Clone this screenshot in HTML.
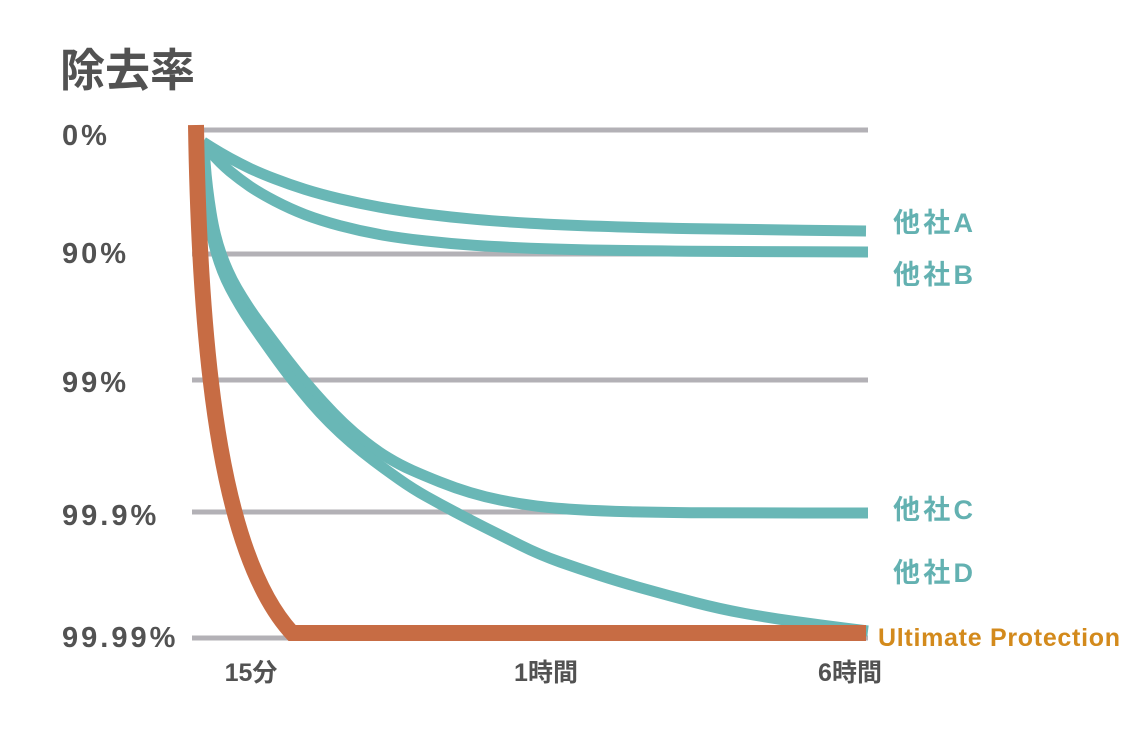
<!DOCTYPE html>
<html>
<head>
<meta charset="utf-8">
<style>
html,body{margin:0;padding:0;background:#fff;}
svg{display:block;}
.ax{font-family:"Liberation Sans","Noto Sans CJK JP",sans-serif;font-weight:bold;fill:#525252;}
.tl{font-family:"Liberation Sans","Noto Sans CJK JP",sans-serif;font-weight:bold;fill:#63b1b1;}
</style>
</head>
<body>
<svg width="1128" height="756" viewBox="0 0 1128 756" xmlns="http://www.w3.org/2000/svg">
<rect width="1128" height="756" fill="#fff"/>
<!-- title -->
<text x="60" y="86" class="ax" font-size="45" font-family="Noto Sans CJK JP, sans-serif" textLength="135">除去率</text>
<!-- y labels -->
<text x="62" y="145" class="ax" font-size="29" letter-spacing="3">0%</text>
<text x="62" y="263" class="ax" font-size="29" letter-spacing="3">90%</text>
<text x="62" y="392" class="ax" font-size="29" letter-spacing="3">99%</text>
<text x="62" y="525" class="ax" font-size="29" letter-spacing="3">99.9%</text>
<text x="62" y="647" class="ax" font-size="29" letter-spacing="3">99.99%</text>
<!-- gridlines -->
<g stroke="#b3b1b6" stroke-width="5">
<line x1="192" y1="130" x2="868" y2="130"/>
<line x1="192" y1="254" x2="868" y2="254"/>
<line x1="192" y1="380" x2="868" y2="380"/>
<line x1="192" y1="512" x2="868" y2="512"/>
<line x1="192" y1="638" x2="868" y2="638"/>
</g>
<!-- teal curves -->
<g fill="none" stroke="#69b7b6" stroke-width="11" stroke-linejoin="round" stroke-linecap="butt">
<path d="M203,142 L211.5,147.4 Q220,152.7 230,158.2 Q240,163.6 250,168.4 Q260,173.1 275,178.9 Q290,184.7 305,189.4 Q320,194.1 340,198.9 Q360,203.6 380,207.2 Q400,210.8 425,214 Q450,217.1 475,219.3 Q500,221.5 530,223.2 Q560,224.9 600,226.3 Q640,227.7 690,228.6 Q740,229.4 803,230.2 L866,231"/>
<path d="M203,143 L211.5,153 Q220,163.1 230,171.4 Q240,179.6 250,186.4 Q260,193.1 275,201 Q290,208.8 305,214.6 Q320,220.3 340,225.7 Q360,231 380,234.6 Q400,238.1 425,240.9 Q450,243.7 475,245.4 Q500,247 530,248.2 Q560,249.3 600,250.1 Q640,250.8 690,251.2 Q740,251.5 804,251.8 L868,252"/>
<path d="M204,148 L205,161.5 Q206,175 207.5,187.5 Q209,200 211,212.5 Q213,225 215.5,235 Q218,245 221,253.5 Q224,262 228,271 Q232,280 237,288.5 Q242,297 247.5,305.5 Q253,314 259,322 Q265,330 272.5,340 Q280,350 288.5,361 Q297,372 305.5,382 Q314,392 323.5,402.5 Q333,413 343.5,423 Q354,433 365.5,442 Q377,451 388.5,458 Q400,465 412.5,470.5 Q425,476 440,482 Q455,488 470,492.5 Q485,497 500,500 Q515,503 532.5,505.5 Q550,508 575,509.5 Q600,511 630,511.75 Q660,512.5 700,512.75 Q740,513 804,513 L868,513"/>
<path d="M204,148 L204.5,161.5 Q205,175 206,187.5 Q207,200 208.5,212.5 Q210,225 212,235 Q214,245 216.5,253.5 Q219,262 222.5,271 Q226,280 230.5,288.5 Q235,297 240,305.5 Q245,314 250.5,322 Q256,330 263,340 Q270,350 278,361 Q286,372 294,382 Q302,392 311,402.5 Q320,413 330,423 Q340,433 351,442.5 Q362,452 374,461 Q386,470 399.5,479.5 Q413,489 426.5,496.5 Q440,504 455,512 Q470,520 485,527.5 Q500,535 520,545 Q540,555 560,562 Q580,569 600,575.5 Q620,582 645,589 Q670,596 695,602.5 Q720,609 745,613.5 Q770,618 795,621.5 Q820,625 844,628 L868,631"/>
</g>
<!-- orange -->
<path d="M196,125 C200,380 225,560 292,633 L866,633" fill="none" stroke="#c76c44" stroke-width="16" stroke-linejoin="miter" stroke-linecap="butt"/>
<!-- x labels -->
<text x="251" y="681" class="ax" font-size="25" text-anchor="middle">15分</text>
<text x="546" y="681" class="ax" font-size="25" text-anchor="middle">1時間</text>
<text x="850" y="681" class="ax" font-size="25" text-anchor="middle">6時間</text>
<!-- right labels -->
<text x="893" y="232" class="tl" font-size="27" textLength="80">他社A</text>
<text x="893" y="284" class="tl" font-size="27" textLength="80">他社B</text>
<text x="893" y="519" class="tl" font-size="27" textLength="80">他社C</text>
<text x="893" y="582" class="tl" font-size="27" textLength="80">他社D</text>
<text x="878" y="646" font-family="Liberation Sans, sans-serif" font-weight="bold" font-size="25" fill="#d38a1c" textLength="242">Ultimate Protection</text>
</svg>
</body>
</html>
